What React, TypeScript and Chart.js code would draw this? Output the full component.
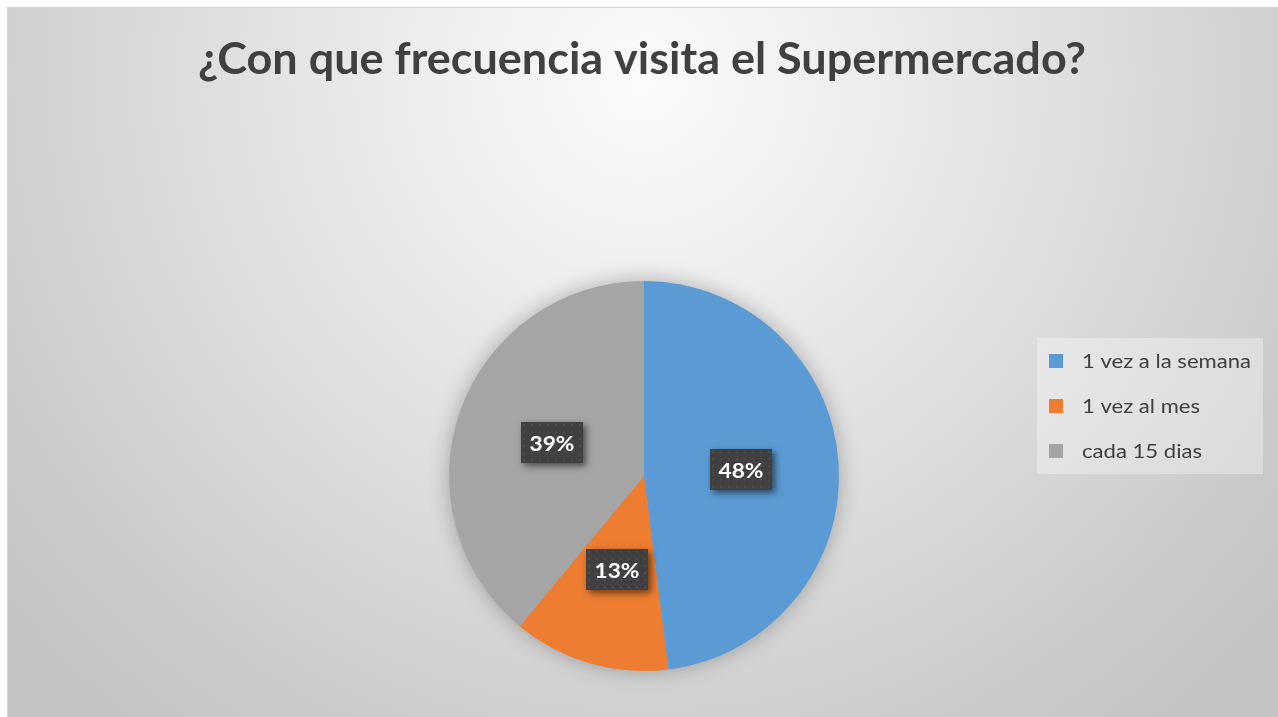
import React, { useEffect, useRef } from 'react';
import { Chart, registerables } from 'chart.js';

Chart.register(...registerables);

const TITLE = '¿Con que frecuencia visita el Supermercado?';
const categories = ['1 vez a la semana', '1 vez al mes', 'cada 15 dias'];
const shares = [48, 13, 39];
const sliceColors = ['#5B9BD5', '#ED7D31', '#A5A5A5'];

const FAMILY = 'Lato, "Open Sans", "DejaVu Sans", sans-serif';
const CAP = 0.72;
const W = 1278;
const H = 717;

// draw text with a given cap height, horizontally scaled to a target width
function drawFitted(
  ctx: CanvasRenderingContext2D,
  text: string,
  weight: string,
  capPx: number,
  refText: string,
  refWidth: number,
  x: number,
  baseline: number,
  align: 'left' | 'center',
  color: string
) {
  const size = capPx / CAP;
  ctx.save();
  ctx.font = `${weight} ${size}px ${FAMILY}`;
  const rw = ctx.measureText(refText).width;
  const sx = refWidth / rw;
  const tw = ctx.measureText(text).width * sx;
  const left = align === 'center' ? x - tw / 2 : x;
  ctx.translate(left, baseline);
  ctx.scale(sx, 1);
  ctx.fillStyle = color;
  ctx.textAlign = 'left';
  ctx.textBaseline = 'alphabetic';
  ctx.fillText(text, 0, 0);
  ctx.restore();
}

const decorPlugin = {
  id: 'decor',
  beforeDatasetsDraw(chart: any) {
    const meta = chart.getDatasetMeta(0);
    const arc = meta.data[0];
    if (!arc) return;
    const { x, y, outerRadius } = arc.getProps(['x', 'y', 'outerRadius'], true);
    const ctx = chart.ctx;
    ctx.save();
    ctx.shadowColor = 'rgba(0,0,0,0.30)';
    ctx.shadowBlur = 22;
    ctx.beginPath();
    ctx.arc(x, y, outerRadius - 1, 0, Math.PI * 2);
    ctx.fillStyle = '#a5a5a5';
    ctx.fill();
    ctx.restore();
  },
  afterDatasetsDraw(chart: any) {
    const ctx: CanvasRenderingContext2D = chart.ctx;
    const meta = chart.getDatasetMeta(0);
    const total = shares.reduce((a, b) => a + b, 0);
    const boxW = 62;
    const boxH = 41;
    meta.data.forEach((arc: any, i: number) => {
      const { x, y, startAngle, endAngle, outerRadius } = arc.getProps(
        ['x', 'y', 'startAngle', 'endAngle', 'outerRadius'],
        true
      );
      const mid = (startAngle + endAngle) / 2;
      const r = outerRadius * 0.5;
      const cx = x + Math.cos(mid) * r;
      const cy = y + Math.sin(mid) * r;
      const bx = Math.round(cx - boxW / 2);
      const by = Math.round(cy - boxH / 2);
      ctx.save();
      ctx.shadowColor = 'rgba(0,0,0,0.55)';
      ctx.shadowBlur = 7;
      ctx.shadowOffsetX = 3;
      ctx.shadowOffsetY = 3;
      ctx.fillStyle = '#404040';
      ctx.fillRect(bx, by, boxW, boxH);
      ctx.restore();
      ctx.save();
      ctx.fillStyle = 'rgba(255,255,255,0.07)';
      for (let yy = by + 3; yy < by + boxH; yy += 7) {
        for (let xx = bx + 3; xx < bx + boxW; xx += 8) {
          ctx.beginPath();
          ctx.arc(xx, yy, 1.2, 0, Math.PI * 2);
          ctx.fill();
        }
      }
      ctx.restore();
      const pct = Math.round((shares[i] / total) * 100) + '%';
      drawFitted(ctx, pct, 'bold', 15, '48%', 45, bx + boxW / 2, by + boxH / 2 + 8.5, 'center', '#ffffff');
    });
  },
  afterDraw(chart: any) {
    const ctx: CanvasRenderingContext2D = chart.ctx;
    drawFitted(ctx, TITLE, 'bold', 31, TITLE, 888, 642, 74, 'center', '#404040');

    ctx.save();
    ctx.fillStyle = 'rgba(255,255,255,0.33)';
    ctx.fillRect(1037, 338, 226, 136);
    ctx.restore();
    categories.forEach((c, i) => {
      const yc = 361 + i * 45;
      ctx.save();
      ctx.fillStyle = sliceColors[i];
      ctx.fillRect(1049, yc - 7, 14, 14);
      ctx.restore();
      drawFitted(ctx, c, 'normal', 14, categories[0], 169, 1082, yc + 6.5, 'left', '#404040');
    });
  },
};

export default function App() {
  const ref = useRef<HTMLCanvasElement>(null);
  useEffect(() => {
    if (!ref.current) return;
    const chart = new Chart(ref.current, {
      type: 'pie',
      data: {
        labels: categories,
        datasets: [
          {
            data: shares,
            backgroundColor: sliceColors,
            borderWidth: 0,
          },
        ],
      },
      options: {
        responsive: false,
        animation: false,
        layout: { padding: { top: 281, bottom: 46, left: 449, right: 439 } },
        plugins: {
          legend: { display: false },
          title: { display: false },
          tooltip: { enabled: false },
        },
      },
      plugins: [decorPlugin],
    });
    return () => chart.destroy();
  }, []);

  return (
    <div style={{ position: 'fixed', left: 0, top: 0, width: W, height: H, background: '#ffffff', overflow: 'hidden' }}>
      <div
        style={{
          position: 'absolute',
          left: 7,
          top: 7,
          width: W - 7,
          height: H - 7,
          boxSizing: 'border-box',
          borderTop: '1px solid #d4d4d4',
          borderLeft: '1px solid #d4d4d4',
          background:
            'radial-gradient(circle at 50% 10%, #fbfbfb 0px, #f0f0f0 180px, #dcdcdc 470px, #cbcbcb 700px, #c3c3c3 850px)',
        }}
      />
      <canvas ref={ref} width={W} height={H} style={{ position: 'absolute', left: 0, top: 0, width: W, height: H }} />
    </div>
  );
}
